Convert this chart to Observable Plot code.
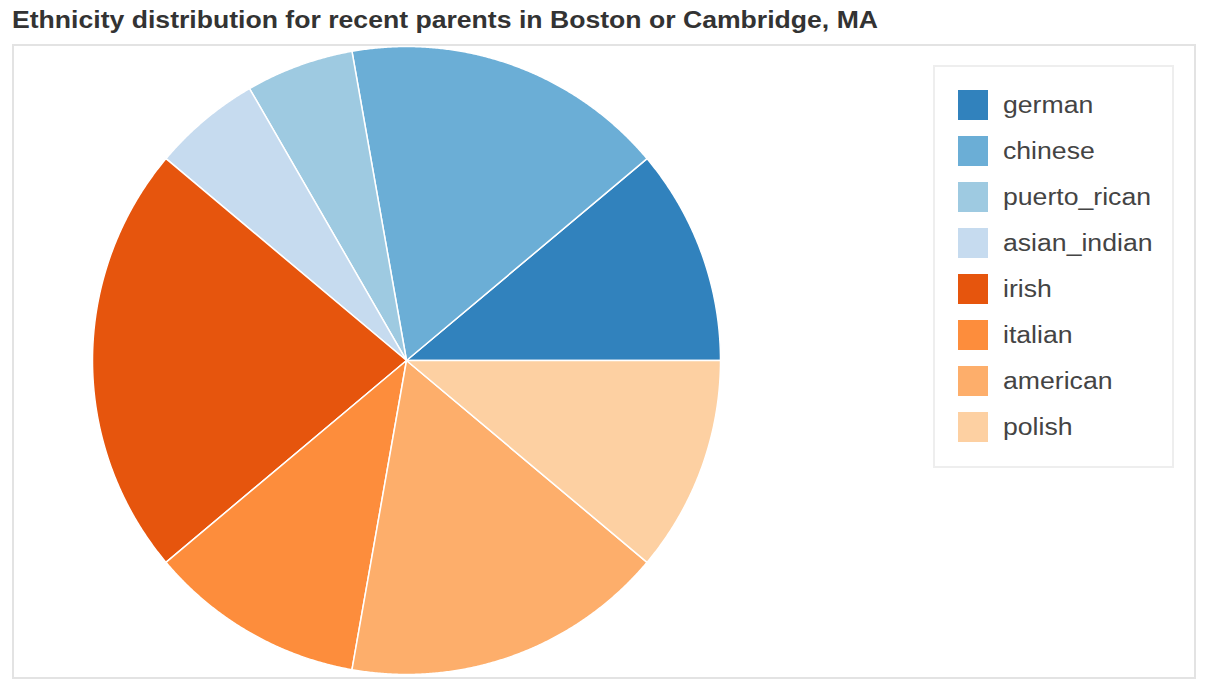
<!DOCTYPE html>
<html>
<head>
<meta charset="utf-8">
<script src="https://cdn.jsdelivr.net/npm/d3@7"></script>
<script src="https://cdn.jsdelivr.net/npm/@observablehq/plot@0.6"></script>
<style>
  html, body { margin: 0; padding: 0; background: #fff; }
  body { width: 1208px; height: 694px; position: relative; overflow: hidden;
         font-family: "Liberation Sans", Arial, Helvetica, sans-serif; }
  #title { position: absolute; left: 12px; top: 8.8px; font-size: 23px; line-height: 23px; font-weight: bold; color: #333;
           white-space: nowrap; transform-origin: 0 0; }
  #frame { position: absolute; left: 12px; top: 44px; width: 1180px; height: 631px; border: 2px solid #e3e3e3; }
  #chart { position: absolute; left: 12px; top: 44px; }
  #legend { position: absolute; left: 933px; top: 65px; width: 237px; height: 399px; border: 2px solid #eeeeee; background: #fff; }
  .item { position: absolute; left: 23px; height: 30px; display: flex; align-items: center; }
  .sw { width: 30px; height: 30px; margin-right: 15px; flex: none; }
  .lab { font-size: 23px; color: #444; line-height: 30px; position: relative; top: -0.5px;
         display: inline-block; white-space: nowrap; transform-origin: 0 50%; }
</style>
</head>
<body>
<div id="title">Ethnicity distribution for recent parents in Boston or Cambridge, MA</div>
<div id="frame"></div>
<div id="chart"></div>
<div id="legend"></div>
<script>
// Data
const ethnicities = ["german", "chinese", "puerto_rican", "asian_indian", "irish", "italian", "american", "polish"];
const counts = [2, 3, 1, 1, 4, 2, 3, 2];
const palette = ["#3182bd", "#6baed6", "#9ecae1", "#c6dbef", "#e6550d", "#fd8d3c", "#fdae6b", "#fdd0a2"];

const rows = ethnicities.map((name, i) => ({name, value: counts[i]}));

// Angles via d3.pie: start at 3 o'clock, counter-clockwise
const arcs = d3.pie().value(d => d.value).sort(null)(rows);

// Build slice outlines in unit-circle data coordinates
const pts = [];
for (const a of arcs) {
  const name = a.data.name;
  pts.push({name, x: 0, y: 0});
  const n = Math.max(2, Math.ceil((a.endAngle - a.startAngle) / 0.005));
  for (let k = 0; k <= n; k++) {
    const t = a.startAngle + (a.endAngle - a.startAngle) * k / n;
    pts.push({name, x: Math.cos(t), y: Math.sin(t)});
  }
  pts.push({name, x: 0, y: 0});
}

const chart = Plot.plot({
  width: 1182,
  height: 633,
  marginLeft: 80,
  marginRight: 474,
  marginTop: 2,
  marginBottom: 3,
  x: {domain: [-1, 1], axis: null},
  y: {domain: [-1, 1], axis: null},
  color: {domain: ethnicities, range: palette},
  marks: [
    Plot.line(pts, {x: "x", y: "y", z: "name", fill: "name", stroke: "white", strokeWidth: 1.5, curve: "linear"})
  ]
});
document.getElementById("chart").appendChild(chart);

// Title: widen glyphs to match the reference's wider typeface
const title = document.getElementById("title");
const tw = title.getBoundingClientRect().width;
title.style.transform = `scaleX(${866 / tw})`;

// Legend
const legend = document.getElementById("legend");
const labs = [];
ethnicities.forEach((name, i) => {
  const item = document.createElement("div");
  item.className = "item";
  item.style.top = (23 + i * 46) + "px";
  const sw = document.createElement("div");
  sw.className = "sw";
  sw.style.background = chart.scale("color").apply(name);
  const lab = document.createElement("span");
  lab.className = "lab";
  lab.textContent = name;
  item.appendChild(sw);
  item.appendChild(lab);
  legend.appendChild(item);
  labs.push(lab);
});
const refW = labs[2].getBoundingClientRect().width; // "puerto_rican"
const k = 148 / refW;
labs.forEach(l => l.style.transform = `scaleX(${k})`);
</script>
</body>
</html>
